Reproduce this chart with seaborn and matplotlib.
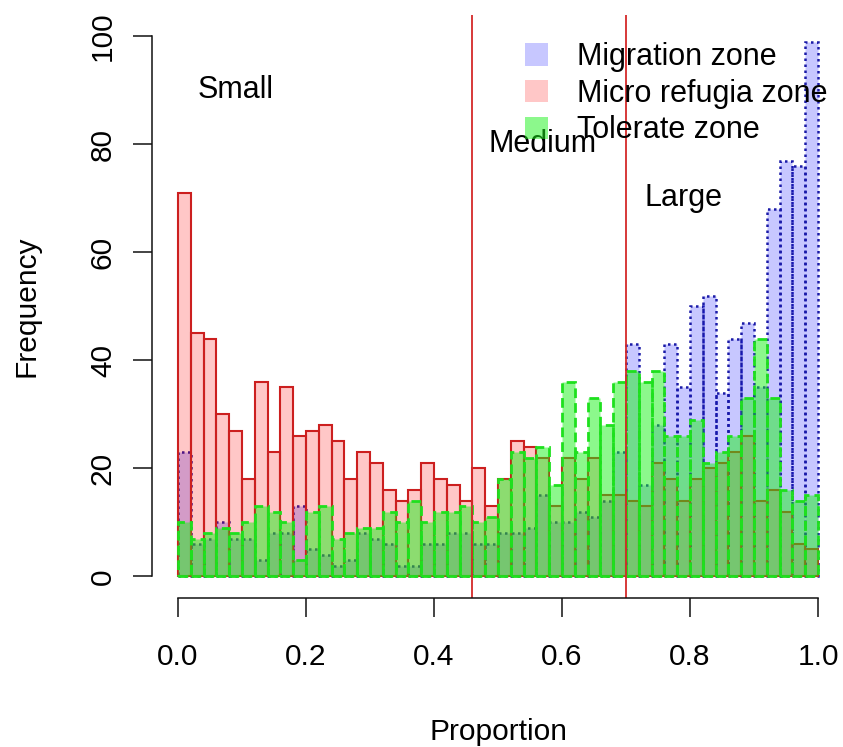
import numpy as np
import pandas as pd
import matplotlib
matplotlib.use("Agg")
import matplotlib.pyplot as plt
from matplotlib.patches import Patch
import seaborn as sns

# Histogram counts per 0.02-wide bin of the proportion (0.00 .. 1.00)
migration = [23, 6, 7, 10, 7, 7, 3, 8, 8, 13,
             5, 4, 2, 3, 8, 7, 6, 2, 2, 6,
             6, 8, 8, 6, 6, 8, 8, 9, 15, 10,
             10, 12, 11, 14, 23, 43, 17, 28, 43, 35,
             50, 52, 34, 44, 47, 35, 68, 77, 76, 99]
micro_refugia = [71, 45, 44, 30, 27, 18, 36, 23, 35, 26,
                 27, 28, 25, 18, 23, 21, 16, 14, 16, 21,
                 18, 17, 14, 20, 13, 18, 25, 24, 22, 13,
                 22, 18, 22, 15, 15, 14, 13, 21, 18, 14,
                 18, 20, 21, 23, 26, 14, 16, 12, 6, 5]
tolerate = [10, 7, 8, 9, 8, 10, 13, 12, 10, 3,
            12, 13, 7, 8, 9, 9, 12, 10, 14, 10,
            12, 12, 13, 10, 11, 18, 23, 22, 24, 17,
            36, 23, 33, 28, 36, 38, 36, 38, 26, 26,
            29, 21, 23, 26, 33, 44, 33, 16, 14, 15]

series_names = ["Migration zone", "Micro refugia zone", "Tolerate zone"]
zone_breaks = [0.46, 0.70]
zone_labels = ["Small", "Medium", "Large"]
zone_label_pos = [(0.09, 90), (0.57, 80), (0.79, 70)]

bin_width = 0.02
bin_edges = [round(i * bin_width, 2) for i in range(51)]
bin_centers = [round((a + b) / 2, 3) for a, b in zip(bin_edges[:-1], bin_edges[1:])]

sns.set_style("ticks")
plt.rcParams["font.family"] = ["Liberation Sans", "DejaVu Sans"]
plt.rcParams["font.size"] = 21
plt.rcParams["text.color"] = "black"
plt.rcParams["axes.labelcolor"] = "black"
plt.rcParams["xtick.color"] = "black"
plt.rcParams["ytick.color"] = "black"

fig = plt.figure(figsize=(8.43, 7.47), dpi=100)
ax = fig.add_axes([0.1808, 0.1995, 0.8200, 0.7807])

styles = [
    dict(facecolor=(0.0, 0.0, 1.0, 0.22), edgecolor="#1a1aa8",
         linestyle=(0, (1, 1.4)), linewidth=1.8),
    dict(facecolor=(1.0, 0.0, 0.0, 0.22), edgecolor="#cc1f1f",
         linestyle="-", linewidth=1.5),
    dict(facecolor=(0.1, 0.95, 0.1, 0.5), edgecolor="#1ee01e",
         linestyle=(0, (3.5, 1.8)), linewidth=2.0),
]
for counts, st in zip([migration, micro_refugia, tolerate], styles):
    df = pd.DataFrame({"proportion": bin_centers, "count": counts})
    sns.histplot(data=df, x="proportion", weights="count", bins=bin_edges,
                 element="bars", fill=True, ax=ax, **st)

for xb in zone_breaks:
    ax.axvline(xb, color="#d42a2a", linewidth=1.3)

for lab, (tx, ty) in zip(zone_labels, zone_label_pos):
    ax.text(tx, ty, lab, ha="center", va="center", fontsize=22)

ax.set_xlim(-0.04, 1.04)
ax.set_ylim(-4, 104)
xt = [0.0, 0.2, 0.4, 0.6, 0.8, 1.0]
ax.set_xticks(xt)
ax.set_xticklabels([f"{v:.1f}" for v in xt])
ax.set_yticks(range(0, 101, 20))
for side in ["top", "right"]:
    ax.spines[side].set_visible(False)
ax.spines["bottom"].set_bounds(0, 1)
ax.spines["left"].set_bounds(0, 100)
for side in ["bottom", "left"]:
    ax.spines[side].set_linewidth(1.1)
    ax.spines[side].set_color("#111111")
ax.tick_params(axis="both", direction="out", length=13.5, width=1.1,
               color="#111111", labelsize=21.5)
ax.tick_params(axis="x", pad=19)
ax.tick_params(axis="y", pad=12, labelrotation=90)
for t in ax.get_yticklabels():
    t.set_va("center")

ax.set_xlabel("Proportion", fontsize=21.5)
ax.set_ylabel("Frequency", fontsize=21.5)
ax.xaxis.set_label_coords(0.5, -0.205)
ax.yaxis.set_label_coords(-0.162, 0.5)

handles = [Patch(facecolor=s["facecolor"], edgecolor="none") for s in styles]
fig.legend(handles, series_names, loc="upper left",
           bbox_to_anchor=(525 / 843, 1 - 42 / 747), frameon=False,
           borderpad=0, borderaxespad=0, handlelength=0.75, handleheight=0.75,
           handletextpad=0.95, labelspacing=0.22, fontsize=22)

fig.savefig("out.png", dpi=100)
